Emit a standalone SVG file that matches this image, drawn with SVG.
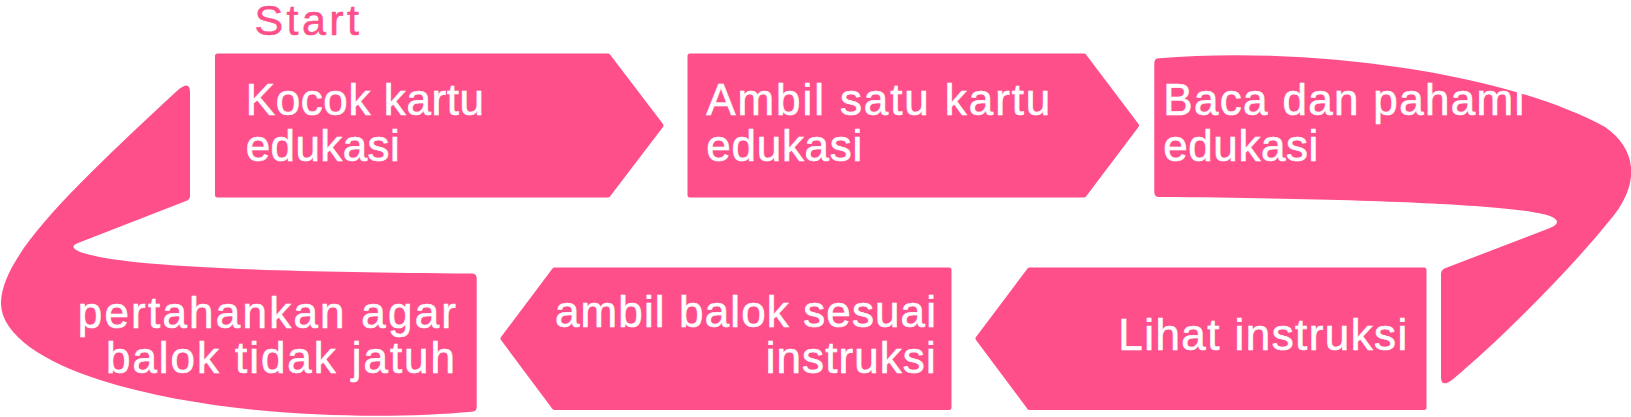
<svg xmlns="http://www.w3.org/2000/svg" width="1631" height="417" viewBox="0 0 1631 417">
<style>
.box{fill:#FF4F8B;stroke:#FF4F8B;stroke-width:5;stroke-linejoin:round}
.curve{fill:#FF4F8B}
.t{font-family:"Liberation Sans",Arial,sans-serif;font-size:44px;fill:#FFFFFF;stroke:#FFFFFF;stroke-width:0.6}
.start{font-family:"Liberation Sans",Arial,sans-serif;font-size:43px;fill:#FF4F8B;stroke:#FF4F8B;stroke-width:0.6}
</style>
<rect width="1631" height="417" fill="#FFFFFF"/>
<g id="connectors">
<path id="loop-right" class="curve" d="M 1159 58.3 C 1300 46, 1500 70, 1605 127 C 1638 150, 1640 185, 1610 220 C 1570 270, 1500 340, 1452 380 Q 1441 388, 1441 377 V 274 Q 1441 269, 1447 267.5 L 1550 228 Q 1564 222, 1550 216 C 1520 206, 1400 199, 1160 197 L 1159 197 Q 1154.3 197, 1154.3 192 V 63 Q 1154.3 58.5, 1159 58.3 Z"/>
<path id="loop-left" class="curve" d="M 472 273.5 Q 476.7 273.5, 476.7 278.5 V 406.7 Q 476.7 411.5, 472 411.7 C 380 420, 220 418, 100 380 C 45 362.6, 0 335, 1 302 C 3 255, 70 190, 178 90 Q 190 80, 190 92 V 196 Q 190 199.5, 186 201 L 78 243 Q 68 247, 80 252 C 120 266, 250 272, 472 273.5 Z"/>
</g>
<text class="start" x="254.5" y="35" textLength="104.5">Start</text>
<g id="node1">
<path class="box" d="M 217.5 56 L 608 56 L 661 125.5 L 608 195 L 217.5 195 Z"/>
<text class="t" x="245.7" y="115" textLength="238.3">Kocok kartu</text>
<text class="t" x="245.7" y="161" textLength="154">edukasi</text>
</g>
<g id="node2">
<path class="box" d="M 690 56 L 1084 56 L 1136.5 125.5 L 1084 195 L 690 195 Z"/>
<text class="t" x="706.3" y="115" textLength="344">Ambil satu kartu</text>
<text class="t" x="706.3" y="161" textLength="156">edukasi</text>
</g>
<g id="node3">
<text class="t" x="1163.3" y="114.5" textLength="361">Baca dan pahami</text>
<text class="t" x="1163.3" y="161" textLength="155">edukasi</text>
</g>
<g id="node4">
<path class="box" d="M 1424 270 L 1029.5 270 L 978 338.5 L 1029.5 407.5 L 1424 407.5 Z"/>
<text class="t" x="1118.3" y="350" textLength="289">Lihat instruksi</text>
</g>
<g id="node5">
<path class="box" d="M 949 270 L 554.5 270 L 503 338.5 L 554.5 407.5 L 949 407.5 Z"/>
<text class="t" x="555" y="327" textLength="381">ambil balok sesuai</text>
<text class="t" x="765.7" y="373.3" textLength="170">instruksi</text>
</g>
<g id="node6">
<text class="t" x="77.7" y="328.3" textLength="378.3">pertahankan agar</text>
<text class="t" x="106" y="373.3" textLength="349">balok tidak jatuh</text>
</g>
</svg>
